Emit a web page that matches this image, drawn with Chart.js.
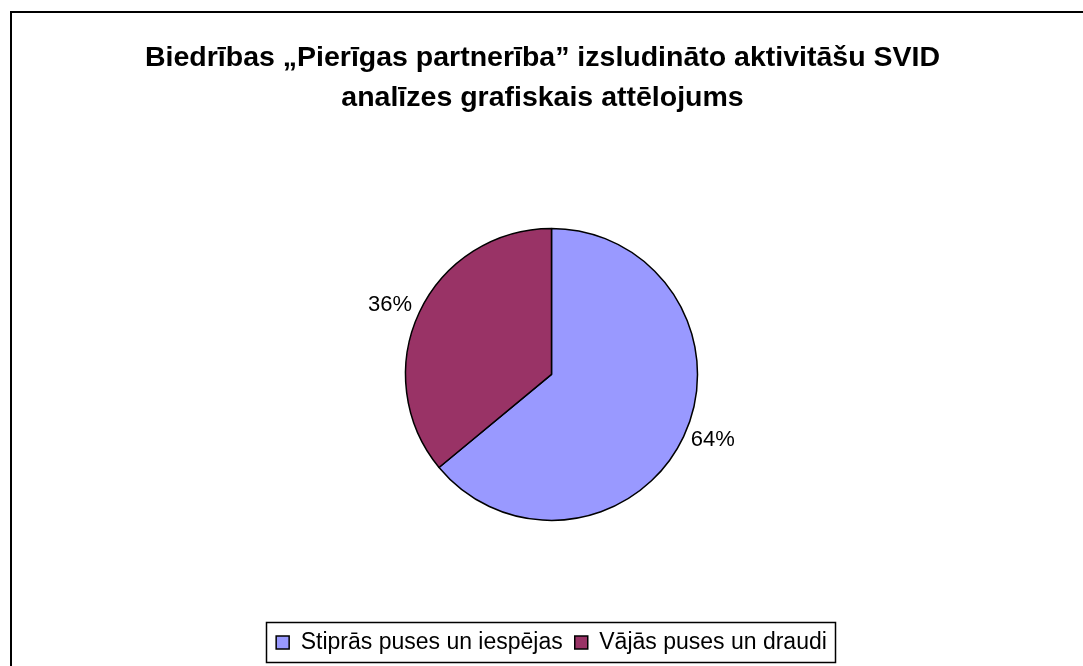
<!DOCTYPE html>
<html>
<head>
<meta charset="utf-8">
<title>SVID analīze</title>
<script src="https://cdn.jsdelivr.net/npm/chart.js@4.4.1/dist/chart.umd.min.js"></script>
<style>
  html, body { margin: 0; padding: 0; background: #fff; overflow: hidden; }
  #wrap { position: relative; width: 1083px; height: 666px; }
</style>
</head>
<body>
<div id="wrap">
  <canvas id="pie" width="1083" height="666"></canvas>
</div>
<script>
const titleLines = ['Biedrības „Pierīgas partnerība” izsludināto aktivitāšu SVID', 'analīzes grafiskais attēlojums'];
const categories = ['Stiprās puses un iespējas', 'Vājās puses un draudi'];
const shares = [64, 36];
const sliceColors = ['#9999FF', '#993366'];

const FONT = "'Liberation Sans', Arial, sans-serif";

// outer chart frame, only left and top edges are inside the picture
const framePlugin = {
  id: 'frame',
  beforeDraw(chart) {
    const ctx = chart.ctx;
    ctx.save();
    ctx.strokeStyle = '#000';
    ctx.lineWidth = 2;
    ctx.beginPath();
    ctx.moveTo(11, chart.height);
    ctx.lineTo(11, 12);
    ctx.lineTo(chart.width, 12);
    ctx.stroke();
    ctx.restore();
  }
};

// title sits a bit left of the plot centre in the original
const titleShift = {
  id: 'titleShift',
  afterLayout(chart) {
    if (chart.titleBlock) {
      chart.titleBlock.left -= 18;
    }
  }
};

// box around the legend, sized from the legend hit boxes
const legendBoxPlugin = {
  id: 'legendBox',
  afterDraw(chart) {
    const boxes = chart.legend && chart.legend.legendHitBoxes;
    if (!boxes || !boxes.length) return;
    let l = Infinity, r = -Infinity, t = Infinity, b = -Infinity;
    boxes.forEach(h => {
      l = Math.min(l, h.left);
      r = Math.max(r, h.left + h.width);
      t = Math.min(t, h.top);
      b = Math.max(b, h.top + h.height);
    });
    const ctx = chart.ctx;
    ctx.save();
    ctx.strokeStyle = '#000';
    ctx.lineWidth = 1.5;
    ctx.strokeRect(Math.round(l - 10) + 0.5, Math.round(t - 9) + 0.5, Math.round(r - l + 18), Math.round(b - t + 17));
    ctx.restore();
  }
};

// percentage labels just outside each slice (outside end, like Excel)
const pctLabels = {
  id: 'pctLabels',
  afterDatasetsDraw(chart) {
    const ctx = chart.ctx;
    const meta = chart.getDatasetMeta(0);
    const data = chart.data.datasets[0].data;
    const total = data.reduce((a, v) => a + v, 0);
    ctx.save();
    ctx.font = '22px ' + FONT;
    ctx.fillStyle = '#000';
    ctx.textBaseline = 'middle';
    meta.data.forEach((arc, i) => {
      const p = arc.getProps(['x', 'y', 'startAngle', 'endAngle', 'outerRadius'], true);
      const mid = (p.startAngle + p.endAngle) / 2;
      const rr = p.outerRadius + 8;
      const cx = Math.cos(mid), cy = Math.sin(mid);
      ctx.textAlign = cx >= 0 ? 'left' : 'right';
      const txt = Math.round(data[i] / total * 100) + '%';
      ctx.fillText(txt, p.x + cx * rr, p.y + cy * rr - (cy < 0 ? 4 : 0));
    });
    ctx.restore();
  }
};

new Chart(document.getElementById('pie'), {
  type: 'pie',
  data: {
    labels: categories,
    datasets: [{
      data: shares,
      backgroundColor: sliceColors,
      borderColor: '#000',
      borderWidth: 1.5,
      radius: 146
    }]
  },
  options: {
    responsive: false,
    animation: false,
    layout: { padding: { left: 20, right: 0, top: 0, bottom: 2 } },
    plugins: {
      title: {
        display: true,
        text: titleLines,
        color: '#000',
        font: { family: FONT, size: 28.5, weight: 'bold', lineHeight: 1.4 },
        padding: { top: 38, bottom: 12 }
      },
      legend: {
        position: 'bottom',
        labels: {
          color: '#000',
          font: { family: FONT, size: 23 },
          boxWidth: 13,
          boxHeight: 13,
          padding: 12
        }
      },
      tooltip: { enabled: false }
    }
  },
  plugins: [framePlugin, titleShift, legendBoxPlugin, pctLabels]
});
</script>
</body>
</html>
